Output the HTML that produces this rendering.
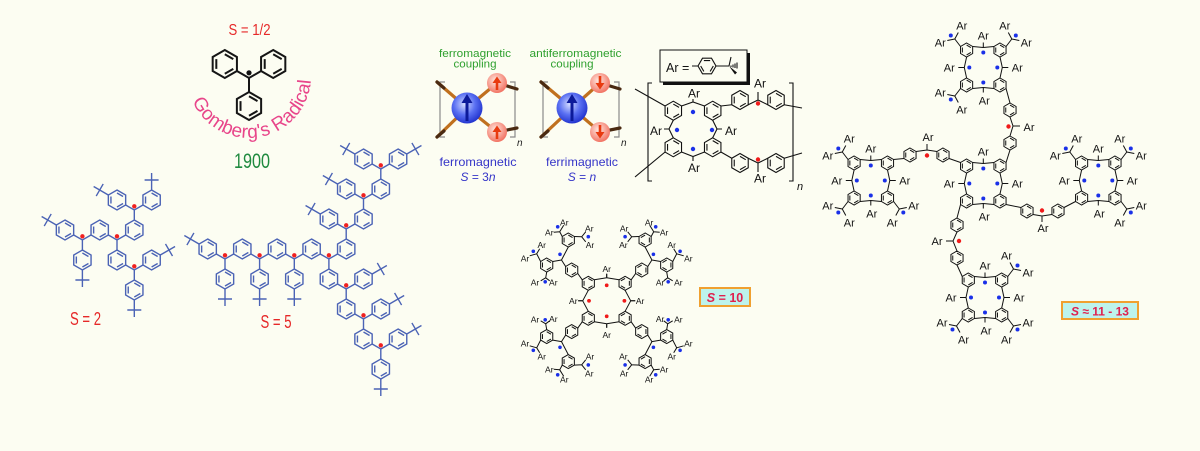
<!DOCTYPE html>
<html><head><meta charset="utf-8"><style>
html,body{margin:0;padding:0;background:#fcfdf2;}
svg{display:block}
text{font-family:"Liberation Sans",Arial,sans-serif}
</style></head><body>
<svg width="1200" height="451" viewBox="0 0 1200 451" xmlns="http://www.w3.org/2000/svg">
<rect width="1200" height="451" fill="#fcfdf2"/>
<defs>
<path id="hx" d="M0,-10L8.66,-5L8.66,5L0,10L-8.66,5L-8.66,-5Z M0,-7L6.06,-3.5 M6.06,3.5L0,7 M-6.06,3.5L-6.06,-3.5" fill="none" vector-effect="non-scaling-stroke"/>
<path id="tb" d="M0,0L7,0M0,-7L0,7" fill="none"/>
<radialGradient id="gb" cx="0.42" cy="0.38" r="0.62"><stop offset="0" stop-color="#d4dcff"/><stop offset="0.55" stop-color="#5a70f2"/><stop offset="1" stop-color="#2436d0"/></radialGradient>
<radialGradient id="gr" cx="0.42" cy="0.38" r="0.62"><stop offset="0" stop-color="#ffe8e0"/><stop offset="1" stop-color="#f27464"/></radialGradient>
<g id="q10">
 <use href="#hx" transform="translate(-18.4,-17.5) scale(0.7)"/>
 <use href="#hx" transform="translate(-35,-30.8) scale(0.7)"/>
 <use href="#hx" transform="translate(-38.4,-60.8) scale(0.7)"/>
 <use href="#hx" transform="translate(-60,-35.8) scale(0.7)"/>
 <path d="M-12.34,-21L0,-23M0,-23L0,-27 M-18.4,-10.5L-24,0M-24,0L-28.5,0 M-24.46,-21L-28.94,-27.3 M-41.06,-34.3L-45.2,-40.8L-38.4,-53.8 M-45.2,-40.8L-53.94,-39.3 M-44.46,-64.3L-47,-69L-43,-75.5 M-47,-69L-53,-68.5 M-32.34,-64.3L-25,-64L-21,-69 M-25,-64L-21,-59 M-66.06,-39.3L-70,-47L-67,-52 M-70,-47L-77,-45 M-60,-28.8L-61,-23L-66,-20 M-61,-23L-57,-20" fill="none"/>
 <g fill="#1a30e8" stroke="none">
  <circle cx="-49" cy="-74" r="1.8"/><circle cx="-18.4" cy="-64.1" r="1.8"/><circle cx="-73.4" cy="-49.5" r="1.8"/><circle cx="-61.5" cy="-19" r="1.8"/><circle cx="-46.7" cy="-46.5" r="1.8"/>
 </g>
 <g fill="#f01a1a" stroke="none"><circle cx="0" cy="-15.5" r="1.8"/><circle cx="-17.7" cy="0" r="1.8"/></g>
</g>
<g id="mc">
 <use href="#hx" transform="translate(-16.7,-17.5) scale(0.7)"/>
 <use href="#hx" transform="translate(16.7,-17.5) scale(0.7)"/>
 <use href="#hx" transform="translate(-16.7,17.5) scale(0.7)"/>
 <use href="#hx" transform="translate(16.7,17.5) scale(0.7)"/>
 <path d="M-10.64,-21L0,-20L10.64,-21M0,-20L0,-25 M-10.64,21L0,20L10.64,21M0,20L0,25 M-16.7,-10.5L-19,0L-16.7,10.5M-19,0L-25,0 M16.7,-10.5L19,0L16.7,10.5M19,0L25,0" fill="none"/>
 <g fill="#1a30e8" stroke="none"><circle cx="0" cy="-15" r="2"/><circle cx="0" cy="15" r="2"/><circle cx="-14" cy="0" r="2"/><circle cx="14" cy="0" r="2"/></g>
</g>
<g id="pa"><path d="M-22.76,-21L-28.5,-28.5L-25,-35M-28.5,-28.5L-36,-27" fill="none"/><circle cx="-32.5" cy="-32" r="2" fill="#1a30e8" stroke="none"/></g>
</defs>

<!-- Gomberg -->
<text x="249.5" y="35" font-size="16" fill="#e62828" text-anchor="middle" textLength="42" lengthAdjust="spacingAndGlyphs">S = 1/2</text>
<g stroke="#151515" stroke-width="2" fill="none">
 <use href="#hx" transform="translate(224.8,64) scale(1.4)"/>
 <use href="#hx" transform="translate(273.2,64) scale(1.4)"/>
 <use href="#hx" transform="translate(249,106) scale(1.4)"/>
 <path d="M236.9,71L249,78L261.1,71M249,78L249,92"/>
</g>
<circle cx="249" cy="72.8" r="2.6" fill="#111"/>
<path id="arc" d="M192.4,101.2 A62,62 0 0 0 311,78.2" fill="none"/>
<text font-size="19" fill="#e8458a" letter-spacing="0.2"><textPath href="#arc">Gomberg's Radical</textPath></text>
<text x="252" y="168" font-size="21" fill="#1f8a3f" text-anchor="middle" textLength="36" lengthAdjust="spacingAndGlyphs">1900</text>

<!-- S=2 molecule -->
<g stroke="#4b63b5" stroke-width="1.4" fill="none">
 <use href="#hx" x="65" y="230"/><use href="#hx" x="82.4" y="260"/><use href="#hx" x="99.7" y="230"/>
 <use href="#hx" x="134.3" y="230"/><use href="#hx" x="117" y="200"/><use href="#hx" x="151.6" y="200"/>
 <use href="#hx" x="117" y="260"/><use href="#hx" x="151.6" y="260"/><use href="#hx" x="134.3" y="290"/>
 <path d="M73.7,235L82.4,240L91,235M82.4,240L82.4,250 M108.4,235L117,240L125.7,235M117,240L117,250 M125.7,205L134.3,210L143,205M134.3,210L134.3,220 M125.7,265L134.3,270L143,265M134.3,270L134.3,280 M56.3,225L47.7,220 M82.4,270L82.4,280 M108.3,195L99.7,190 M151.6,190L151.6,180 M160.3,255L169,250 M134.3,300L134.3,310"/>
 <use href="#tb" transform="translate(47.7,220) rotate(210)"/>
 <use href="#tb" transform="translate(82.4,280) rotate(90)"/>
 <use href="#tb" transform="translate(99.7,190) rotate(210)"/>
 <use href="#tb" transform="translate(151.6,180) rotate(270)"/>
 <use href="#tb" transform="translate(169,250) rotate(330)"/>
 <use href="#tb" transform="translate(134.3,310) rotate(90)"/>
</g>
<g fill="#f02020"><circle cx="82.4" cy="236.3" r="2.2"/><circle cx="117" cy="236.3" r="2.2"/><circle cx="134.3" cy="206.3" r="2.2"/><circle cx="134.3" cy="266.3" r="2.2"/></g>
<text x="85.5" y="325" font-size="18" fill="#e62828" text-anchor="middle" textLength="31" lengthAdjust="spacingAndGlyphs">S = 2</text>

<!-- S=5 molecule -->
<g stroke="#4b63b5" stroke-width="1.4" fill="none">
 <use href="#hx" x="207.7" y="249"/><use href="#hx" x="225" y="279"/><use href="#hx" x="242.3" y="249"/>
 <use href="#hx" x="259.6" y="279"/><use href="#hx" x="277" y="249"/><use href="#hx" x="294.3" y="279"/>
 <use href="#hx" x="311.6" y="249"/><use href="#hx" x="346.2" y="249"/><use href="#hx" x="328.9" y="219"/>
 <use href="#hx" x="363.5" y="219"/><use href="#hx" x="346.2" y="189"/><use href="#hx" x="380.8" y="189"/>
 <use href="#hx" x="363.5" y="159"/><use href="#hx" x="398.1" y="159"/><use href="#hx" x="328.9" y="279"/>
 <use href="#hx" x="363.5" y="279"/><use href="#hx" x="346.2" y="309"/><use href="#hx" x="380.8" y="309"/>
 <use href="#hx" x="363.5" y="339"/><use href="#hx" x="398.1" y="339"/><use href="#hx" x="380.8" y="369"/>
 <path d="M216.34,254L225,259L233.66,254M225,259L225,269 M250.94,254L259.6,259L268.26,254M259.6,259L259.6,269 M285.64,254L294.3,259L302.96,254M294.3,259L294.3,269 M320.24,254L328.9,259L337.56,254M328.9,259L328.9,269 M337.54,224L346.2,229L354.86,224M346.2,229L346.2,239 M354.84,194L363.5,199L372.16,194M363.5,199L363.5,209 M372.14,164L380.8,169L389.46,164M380.8,169L380.8,179 M337.54,284L346.2,289L354.86,284M346.2,289L346.2,299 M354.84,314L363.5,319L372.16,314M363.5,319L363.5,329 M372.14,344L380.8,349L389.46,344M380.8,349L380.8,359"/>
 <path d="M199.04,244L190.4,239 M225,289L225,299 M259.6,289L259.6,299 M294.3,289L294.3,299 M320.24,214L311.6,209 M337.54,184L328.9,179 M354.84,154L346.2,149 M406.76,154L415.4,149 M372.16,274L380.8,269 M389.46,304L398.1,299 M406.76,334L415.4,329 M380.8,379L380.8,389"/>
 <use href="#tb" transform="translate(190.4,239) rotate(210)"/>
 <use href="#tb" transform="translate(225,299) rotate(90)"/>
 <use href="#tb" transform="translate(259.6,299) rotate(90)"/>
 <use href="#tb" transform="translate(294.3,299) rotate(90)"/>
 <use href="#tb" transform="translate(311.6,209) rotate(210)"/>
 <use href="#tb" transform="translate(328.9,179) rotate(210)"/>
 <use href="#tb" transform="translate(346.2,149) rotate(210)"/>
 <use href="#tb" transform="translate(415.4,149) rotate(330)"/>
 <use href="#tb" transform="translate(380.8,269) rotate(330)"/>
 <use href="#tb" transform="translate(398.1,299) rotate(330)"/>
 <use href="#tb" transform="translate(415.4,329) rotate(330)"/>
 <use href="#tb" transform="translate(380.8,389) rotate(90)"/>
</g>
<g fill="#f02020">
 <circle cx="225" cy="255.3" r="2.2"/><circle cx="259.6" cy="255.3" r="2.2"/><circle cx="294.3" cy="255.3" r="2.2"/><circle cx="328.9" cy="255.3" r="2.2"/>
 <circle cx="346.2" cy="225.3" r="2.2"/><circle cx="363.5" cy="195.3" r="2.2"/><circle cx="380.8" cy="165.3" r="2.2"/>
 <circle cx="346.2" cy="285.3" r="2.2"/><circle cx="363.5" cy="315.3" r="2.2"/><circle cx="380.8" cy="345.3" r="2.2"/>
</g>
<text x="276" y="328" font-size="18" fill="#e62828" text-anchor="middle" textLength="31" lengthAdjust="spacingAndGlyphs">S = 5</text>

<!-- Magnetic coupling -->
<text x="475" y="57" font-size="11" fill="#2ea02e" text-anchor="middle" textLength="72" lengthAdjust="spacingAndGlyphs">ferromagnetic</text>
<text x="475" y="67.5" font-size="11" fill="#2ea02e" text-anchor="middle" textLength="43" lengthAdjust="spacingAndGlyphs">coupling</text>
<text x="575.5" y="57" font-size="11" fill="#2ea02e" text-anchor="middle" textLength="92" lengthAdjust="spacingAndGlyphs">antiferromagnetic</text>
<text x="572" y="67.5" font-size="11" fill="#2ea02e" text-anchor="middle" textLength="43" lengthAdjust="spacingAndGlyphs">coupling</text>
<g stroke="#8a8a8a" stroke-width="1.2" fill="none">
 <path d="M445,82L440,82L440,137L445,137 M510,82L515,82L515,137L510,137"/>
 <path d="M548,82L543,82L543,137L548,137 M614,82L619,82L619,137L614,137"/>
</g>
<text x="517" y="146" font-size="10" font-style="italic" fill="#222">n</text>
<text x="621" y="146" font-size="10" font-style="italic" fill="#222">n</text>
<g stroke-width="3.2" stroke-linecap="round" fill="none">
 <path d="M437,82L467,108L437,137 M467,108L497,83 M467,108L497,132" stroke="#c0701e"/>
 <path d="M437,82L444,88 M437,137L444,131 M497,83L517,89 M497,132L517,128" stroke="#4a2a12"/>
 <path d="M541,82L572,108L541,137 M572,108L600,83 M572,108L600,132" stroke="#c0701e"/>
 <path d="M541,82L548,88 M541,137L548,131 M600,83L620,89 M600,132L620,128" stroke="#4a2a12"/>
</g>
<circle cx="467" cy="108" r="15.5" fill="url(#gb)"/>
<circle cx="497" cy="83" r="10" fill="url(#gr)"/><circle cx="497" cy="132" r="10" fill="url(#gr)"/>
<circle cx="572" cy="108" r="15.5" fill="url(#gb)"/>
<circle cx="600" cy="83" r="10" fill="url(#gr)"/><circle cx="600" cy="132" r="10" fill="url(#gr)"/>
<path d="M467,121L467,101 M572,121L572,101" stroke="#0c1a9a" stroke-width="3"/>
<path d="M461.5,103L472.5,103L467,94Z M566.5,103L577.5,103L572,94Z" fill="#0c1a9a"/>
<path d="M497,90L497,82 M497,139L497,131 M600,76L600,84 M600,125L600,133" stroke="#e83a10" stroke-width="2.6"/>
<path d="M492.5,83L501.5,83L497,76.5Z M492.5,132L501.5,132L497,125.5Z M595.5,83L604.5,83L600,89.5Z M595.5,132L604.5,132L600,138.5Z" fill="#e83a10"/>
<text x="478" y="166" font-size="12" fill="#3535c8" text-anchor="middle" textLength="77" lengthAdjust="spacingAndGlyphs">ferromagnetic</text>
<text x="478" y="181" font-size="12" fill="#3535c8" text-anchor="middle"><tspan font-style="italic">S</tspan> = 3<tspan font-style="italic">n</tspan></text>
<text x="582" y="166" font-size="12" fill="#3535c8" text-anchor="middle" textLength="72" lengthAdjust="spacingAndGlyphs">ferrimagnetic</text>
<text x="582" y="181" font-size="12" fill="#3535c8" text-anchor="middle"><tspan font-style="italic">S</tspan> = <tspan font-style="italic">n</tspan></text>

<!-- Polymer -->
<rect x="663" y="53" width="87" height="32" fill="#111"/>
<rect x="660" y="50" width="87" height="32" fill="#fcfdf2" stroke="#111" stroke-width="1"/>
<text x="666" y="72" font-size="12.5" fill="#111">Ar =</text>
<g stroke="#111" stroke-width="1.1" fill="none">
 <use href="#hx" transform="translate(707,66) rotate(90) scale(0.9)"/>
 <path d="M692,66L698,66 M716,66L729,66 M729,66L731,57 M731,65.5L731,67 M733,64.5L733,67.5 M735,63.5L735,68 M737,62.5L737,68.5"/>
 <use href="#hx" transform="translate(673.3,110.7) scale(0.95)"/>
 <use href="#hx" transform="translate(712.7,110.7) scale(0.95)"/>
 <use href="#hx" transform="translate(673.3,147.3) scale(0.95)"/>
 <use href="#hx" transform="translate(712.7,147.3) scale(0.95)"/>
 <use href="#hx" transform="translate(740,100) scale(0.95)"/>
 <use href="#hx" transform="translate(776,100) scale(0.95)"/>
 <use href="#hx" transform="translate(740,163) scale(0.95)"/>
 <use href="#hx" transform="translate(776,163) scale(0.95)"/>
 <path d="M681.5,106L693,102L704.5,106M693,102L693,99 M673.3,120.2L669,129L673.3,137.8M669,129L664,129 M712.7,120.2L717,129L712.7,137.8M717,129L722,129 M681.5,152L693,156.5L704.5,152M693,156.5L693,161 M635,89L665.1,106 M635,177L665.1,152 M720.9,106L731.8,104.75 M748.2,104.75L758,100L767.8,104.75M758,100L758,92 M784.2,104.75L802,108 M720.9,152L731.8,158.25 M748.2,158.25L758,163L767.8,158.25M758,163L758,172 M784.2,158.25L802,153"/>
 <path d="M652,83L648,83L648,181L652,181 M789,83L793,83L793,181L789,181"/>
</g>
<polygon points="729,66 737,72.5 735,74.5" fill="#111"/>
<g fill="#1a30e8"><circle cx="693" cy="112" r="2.2"/><circle cx="677" cy="130" r="2.2"/><circle cx="712" cy="130" r="2.2"/><circle cx="693" cy="149" r="2.2"/></g>
<g fill="#f01a1a"><circle cx="758" cy="103.5" r="2.2"/><circle cx="758" cy="159.5" r="2.2"/></g>
<g font-size="12" fill="#111" text-anchor="middle">
 <text x="694" y="97.5">Ar</text><text x="656" y="135">Ar</text><text x="731" y="135">Ar</text><text x="694" y="172">Ar</text>
 <text x="760" y="87.5">Ar</text><text x="760" y="182.5">Ar</text>
</g>
<text x="797" y="190" font-size="11" font-style="italic" fill="#111">n</text>

<!-- S=10 dendrimer -->
<g stroke="#111" stroke-width="1" fill="none">
 <use href="#q10" transform="translate(606.7,300.8)"/>
 <use href="#q10" transform="translate(606.7,300.8) scale(-1,1)"/>
 <use href="#q10" transform="translate(606.7,300.8) scale(1,-1)"/>
 <use href="#q10" transform="translate(606.7,300.8) scale(-1,-1)"/>
</g>
<g font-size="8.5" fill="#111" text-anchor="middle">
 <text x="564.3" y="225.3">Ar</text><text x="549.3" y="235.3">Ar</text><text x="589.3" y="231.3">Ar</text><text x="590" y="248">Ar</text>
 <text x="541.7" y="248">Ar</text><text x="525" y="261.3">Ar</text><text x="535" y="285.3">Ar</text><text x="553.3" y="285.7">Ar</text>
 <text x="649.1" y="225.3">Ar</text><text x="664.1" y="235.3">Ar</text><text x="624.1" y="231.3">Ar</text><text x="623.4" y="248">Ar</text>
 <text x="671.7" y="248">Ar</text><text x="688.4" y="261.3">Ar</text><text x="678.4" y="285.3">Ar</text><text x="660.1" y="285.7">Ar</text>
 <text x="564.3" y="382.3">Ar</text><text x="549.3" y="372.3">Ar</text><text x="589.3" y="376.3">Ar</text><text x="590" y="359.6">Ar</text>
 <text x="541.7" y="359.6">Ar</text><text x="525" y="346.3">Ar</text><text x="535" y="322.3">Ar</text><text x="553.3" y="321.9">Ar</text>
 <text x="649.1" y="382.3">Ar</text><text x="664.1" y="372.3">Ar</text><text x="624.1" y="376.3">Ar</text><text x="623.4" y="359.6">Ar</text>
 <text x="671.7" y="359.6">Ar</text><text x="688.4" y="346.3">Ar</text><text x="678.4" y="322.3">Ar</text><text x="660.1" y="321.9">Ar</text>
 <text x="606.7" y="271.8">Ar</text><text x="573.3" y="303.8">Ar</text><text x="640.1" y="303.8">Ar</text><text x="606.7" y="337.8">Ar</text>
</g>
<rect x="700" y="288" width="50" height="18" fill="#bdf3ec" stroke="#f0a030" stroke-width="2"/>
<text x="725" y="302" font-size="12.5" font-weight="bold" fill="#e0204e" text-anchor="middle"><tspan font-style="italic">S</tspan> = 10</text>

<!-- Big dendrimer -->
<g stroke="#111" stroke-width="1" fill="none">
 <use href="#mc" transform="translate(983.3,67.5)"/>
 <use href="#mc" transform="translate(983.3,183.5)"/>
 <use href="#mc" transform="translate(870.8,180.5)"/>
 <use href="#mc" transform="translate(1098.3,180.5)"/>
 <use href="#mc" transform="translate(985,297.5)"/>
 <use href="#pa" transform="translate(983.3,67.5)"/>
 <use href="#pa" transform="translate(983.3,67.5) scale(-1,1)"/>
 <use href="#pa" transform="translate(983.3,67.5) scale(1,-1)"/>
 <use href="#pa" transform="translate(870.8,180.5)"/>
 <use href="#pa" transform="translate(870.8,180.5) scale(1,-1)"/>
 <use href="#pa" transform="translate(870.8,180.5) scale(-1,-1)"/>
 <use href="#pa" transform="translate(1098.3,180.5)"/>
 <use href="#pa" transform="translate(1098.3,180.5) scale(-1,1)"/>
 <use href="#pa" transform="translate(1098.3,180.5) scale(-1,-1)"/>
 <use href="#pa" transform="translate(985,297.5) scale(-1,1)"/>
 <use href="#pa" transform="translate(985,297.5) scale(1,-1)"/>
 <use href="#pa" transform="translate(985,297.5) scale(-1,-1)"/>
 <use href="#hx" transform="translate(1010,110) scale(0.7)"/>
 <use href="#hx" transform="translate(1010,143) scale(0.7)"/>
 <use href="#hx" transform="translate(910,155) scale(0.7)"/>
 <use href="#hx" transform="translate(943,155) scale(0.7)"/>
 <use href="#hx" transform="translate(1027,211) scale(0.7)"/>
 <use href="#hx" transform="translate(1058,211) scale(0.7)"/>
 <use href="#hx" transform="translate(957,225) scale(0.7)"/>
 <use href="#hx" transform="translate(957,258) scale(0.7)"/>
 <path d="M1006.06,88.5L1010,103 M1010,117L1013,126L1010,136 M1013,126L1020,126 M1010,150L1006.06,162.5 M893.56,159.5L903.94,158.5 M916.06,151.5L927,150L936.94,151.5 M927,150L927,144 M949.06,158.5L960.54,162.5 M1006.06,204.5L1020.94,207.5 M1033.06,214.5L1042,216L1051.94,214.5 M1042,216L1042,222 M1064.06,207.5L1075.54,201.5 M960.54,204.5L957,218 M957,232L953,241L957,251 M953,241L946,241 M957,265L962.24,276.5"/>
</g>
<g fill="#f01a1a"><circle cx="1008.5" cy="126.5" r="2.2"/><circle cx="927" cy="155.5" r="2.2"/><circle cx="1042" cy="210.5" r="2.2"/><circle cx="959" cy="241" r="2.2"/></g>
<g font-size="11" fill="#111" text-anchor="middle">
 <text x="983.3" y="39.5">Ar</text><text x="949.3" y="71.5">Ar</text><text x="1017.3" y="71.5">Ar</text><text x="984.3" y="104.5">Ar</text>
 <text x="961.8" y="29.5">Ar</text><text x="940.3" y="46.5">Ar</text><text x="1004.8" y="29.5">Ar</text><text x="1026.3" y="46.5">Ar</text>
 <text x="961.8" y="113.5">Ar</text><text x="940.3" y="96.5">Ar</text>
 <text x="983.3" y="155.5">Ar</text><text x="949.3" y="187.5">Ar</text><text x="1017.3" y="187.5">Ar</text><text x="984.3" y="220.5">Ar</text>
 <text x="870.8" y="152.5">Ar</text><text x="836.8" y="184.5">Ar</text><text x="904.8" y="184.5">Ar</text><text x="871.8" y="217.5">Ar</text>
 <text x="849.3" y="142.5">Ar</text><text x="827.8" y="159.5">Ar</text><text x="849.3" y="226.5">Ar</text><text x="827.8" y="209.5">Ar</text>
 <text x="892.3" y="226.5">Ar</text><text x="913.8" y="209.5">Ar</text>
 <text x="1098.3" y="152.5">Ar</text><text x="1064.3" y="184.5">Ar</text><text x="1132.3" y="184.5">Ar</text><text x="1099.3" y="217.5">Ar</text>
 <text x="1076.8" y="142.5">Ar</text><text x="1055.3" y="159.5">Ar</text><text x="1119.8" y="142.5">Ar</text><text x="1141.3" y="159.5">Ar</text>
 <text x="1119.8" y="226.5">Ar</text><text x="1141.3" y="209.5">Ar</text>
 <text x="985" y="269.5">Ar</text><text x="951" y="301.5">Ar</text><text x="1019" y="301.5">Ar</text><text x="986" y="334.5">Ar</text>
 <text x="1006.5" y="259.5">Ar</text><text x="1028" y="276.5">Ar</text><text x="963.5" y="343.5">Ar</text><text x="942" y="326.5">Ar</text>
 <text x="1006.5" y="343.5">Ar</text><text x="1028" y="326.5">Ar</text>
 <text x="1029" y="131">Ar</text><text x="928" y="141">Ar</text><text x="1043" y="232">Ar</text><text x="937" y="245">Ar</text>
</g>
<rect x="1062" y="302" width="76" height="17" fill="#bdf3ec" stroke="#f0a030" stroke-width="2"/>
<text x="1100" y="315.5" font-size="12" font-weight="bold" fill="#e0204e" text-anchor="middle"><tspan font-style="italic">S</tspan> ≈ 11 - 13</text>
</svg>
</body></html>
